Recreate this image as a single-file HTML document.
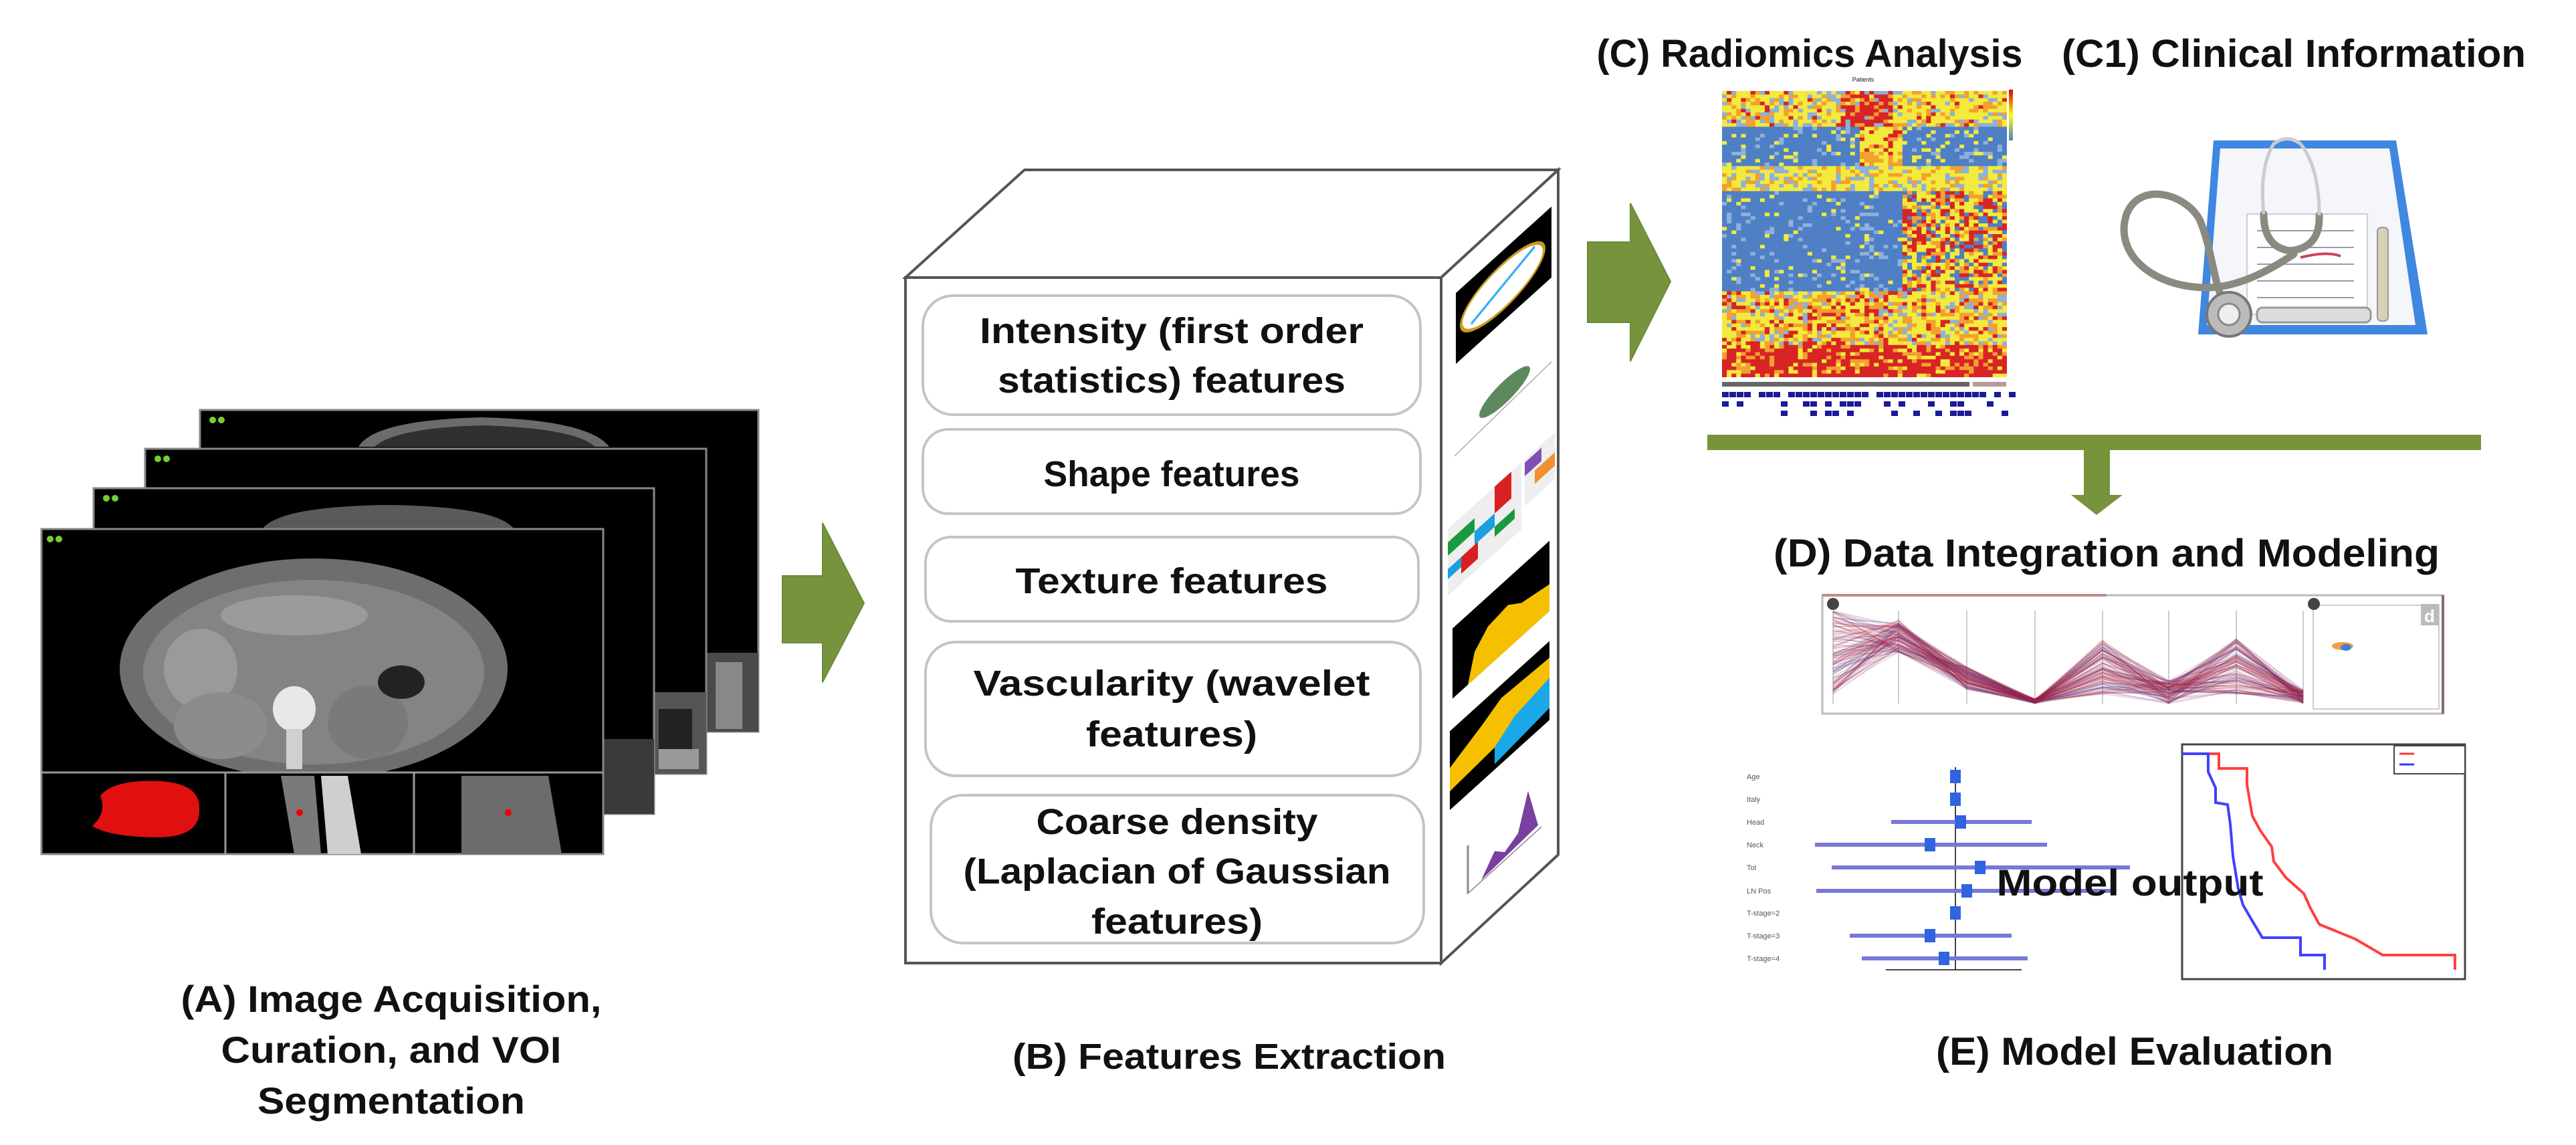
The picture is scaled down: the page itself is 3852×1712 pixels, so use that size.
<!DOCTYPE html>
<html><head><meta charset="utf-8"><style>
html,body{margin:0;padding:0;background:#fff;}
svg{display:block;}
text{font-family:"Liberation Sans",Arial,sans-serif;font-weight:bold;fill:#111;}
</style></head><body>
<svg id="s" width="3852" height="1712" viewBox="0 0 3852 1712" xmlns="http://www.w3.org/2000/svg">
<rect width="3852" height="1712" fill="#fff"/>
<defs>
<clipPath id="cpFront"><rect x="62" y="791" width="840" height="364"/></clipPath>
<clipPath id="cpHm"><rect x="2575" y="136" width="426" height="428"/></clipPath>
</defs>

<!-- ===== A: CT frames ===== -->
<g>
<rect x="299" y="613" width="835" height="481" fill="#000" stroke="#888" stroke-width="3"/>
<path d="M536 668 Q560 628 720 624 Q880 628 911 668 Z" fill="#6b6b6b"/>
<path d="M560 668 Q590 640 720 636 Q860 640 890 668 Z" fill="#303030"/>
<rect x="1056" y="976" width="78" height="118" fill="#4a4a4a"/>
<rect x="1070" y="990" width="40" height="100" fill="#888"/>

<rect x="217" y="671" width="839" height="486" fill="#000" stroke="#888" stroke-width="3"/>
<rect x="978" y="1035" width="78" height="122" fill="#555"/>
<rect x="985" y="1060" width="50" height="60" fill="#222"/>
<rect x="985" y="1120" width="60" height="30" fill="#999"/>

<rect x="140" y="730" width="838" height="487" fill="#000" stroke="#888" stroke-width="3"/>
<path d="M393 790 Q420 757 580 755 Q740 757 768 790 Z" fill="#5a5a5a"/>
<rect x="900" y="1105" width="78" height="112" fill="#3a3a3a"/>

<rect x="62" y="791" width="840" height="486" fill="#000" stroke="#888" stroke-width="3"/>
<g clip-path="url(#cpFront)">
<ellipse cx="469" cy="1000" rx="290" ry="165" fill="#6e6e6e"/>
<ellipse cx="469" cy="1005" rx="255" ry="138" fill="#848484"/>
<ellipse cx="300" cy="1000" rx="55" ry="60" fill="#9a9a9a"/>
<ellipse cx="330" cy="1085" rx="70" ry="50" fill="#8c8c8c"/>
<ellipse cx="550" cy="1080" rx="60" ry="55" fill="#7a7a7a"/>
<ellipse cx="600" cy="1020" rx="35" ry="25" fill="#222"/>
<ellipse cx="440" cy="1060" rx="32" ry="34" fill="#e8e8e8"/>
<rect x="428" y="1090" width="24" height="60" fill="#d0d0d0"/>
<ellipse cx="440" cy="920" rx="110" ry="30" fill="#9b9b9b"/>
</g>
<line x1="62" y1="1155" x2="902" y2="1155" stroke="#999" stroke-width="3"/>
<line x1="337" y1="1155" x2="337" y2="1277" stroke="#999" stroke-width="3"/>
<line x1="619" y1="1155" x2="619" y2="1277" stroke="#999" stroke-width="3"/>
<path d="M150 1190 Q170 1165 240 1168 Q300 1172 298 1210 Q300 1250 240 1252 Q165 1252 138 1235 Q160 1215 150 1190Z" fill="#e01010"/>
<path d="M420 1160 L470 1160 L480 1277 L440 1277Z" fill="#7a7a7a"/>
<path d="M480 1160 L520 1160 L540 1277 L490 1277Z" fill="#cfcfcf"/>
<path d="M690 1160 L820 1160 L840 1277 L690 1277Z" fill="#6c6c6c"/>
<circle cx="448" cy="1215" r="5" fill="#e00"/>
<circle cx="760" cy="1215" r="5" fill="#e00"/>
<circle cx="75" cy="806" r="5" fill="#7c3"/><circle cx="88" cy="806" r="5" fill="#7c3"/>
<circle cx="159" cy="745" r="5" fill="#7c3"/><circle cx="172" cy="745" r="5" fill="#7c3"/>
<circle cx="236" cy="686" r="5" fill="#7c3"/><circle cx="249" cy="686" r="5" fill="#7c3"/>
<circle cx="318" cy="628" r="5" fill="#7c3"/><circle cx="331" cy="628" r="5" fill="#7c3"/>
</g>

<!-- Arrow 1 -->
<path d="M1170 861 L1230 861 L1230 782 L1292 902 L1230 1020 L1230 961 L1170 961Z" fill="#77933c" stroke="#6a8a3a" stroke-width="2"/>

<text x="585" y="1513" font-size="56" text-anchor="middle" textLength="629" lengthAdjust="spacingAndGlyphs">(A) Image Acquisition,</text>
<text x="585" y="1589" font-size="56" text-anchor="middle" textLength="509" lengthAdjust="spacingAndGlyphs">Curation, and VOI</text>
<text x="585" y="1665" font-size="56" text-anchor="middle" textLength="400" lengthAdjust="spacingAndGlyphs">Segmentation</text>

<!-- ===== B: cube ===== -->
<g stroke="#555" stroke-width="4" fill="#fff">
<path d="M1354 415 L1532 254 L2330 254 L2155 415Z"/>
<path d="M2155 415 L2330 254 L2330 1278 L2155 1440Z"/>
<rect x="1354" y="415" width="801" height="1025"/>
</g>
<g fill="#fff" stroke="#c4c4c4" stroke-width="4">
<rect x="1380" y="442" width="744" height="178" rx="45"/>
<rect x="1380" y="642" width="744" height="126" rx="38"/>
<rect x="1384" y="803" width="737" height="126" rx="38"/>
<rect x="1384" y="960" width="740" height="200" rx="45"/>
<rect x="1392" y="1189" width="737" height="221" rx="48"/>
</g>
<g font-size="54" text-anchor="middle">
<text x="1752" y="513" textLength="574" lengthAdjust="spacingAndGlyphs">Intensity (first order</text>
<text x="1752" y="587" textLength="520" lengthAdjust="spacingAndGlyphs">statistics) features</text>
<text x="1752" y="727" textLength="383" lengthAdjust="spacingAndGlyphs">Shape features</text>
<text x="1752" y="887" textLength="467" lengthAdjust="spacingAndGlyphs">Texture features</text>
<text x="1752" y="1040" textLength="593" lengthAdjust="spacingAndGlyphs">Vascularity  (wavelet</text>
<text x="1752" y="1116" textLength="256" lengthAdjust="spacingAndGlyphs">features)</text>
<text x="1760" y="1247" textLength="421" lengthAdjust="spacingAndGlyphs">Coarse density</text>
<text x="1760" y="1321" textLength="639" lengthAdjust="spacingAndGlyphs">(Laplacian of Gaussian</text>
<text x="1760" y="1396" textLength="256" lengthAdjust="spacingAndGlyphs">features)</text>
</g>
<!-- right face icons -->
<g transform="matrix(1,-0.904,0,1,2155,0)">
<rect x="22" y="458" width="143" height="106" fill="#000"/>
<ellipse cx="92" cy="512" rx="62" ry="34" fill="#fff" stroke="#c89a20" stroke-width="4"/>
<line x1="45" y1="525" x2="140" y2="495" stroke="#3ab0f0" stroke-width="5"/>
<ellipse cx="95" cy="672" rx="38" ry="18" fill="#5c8a5c"/>
<line x1="20" y1="700" x2="165" y2="690" stroke="#aaa" stroke-width="2"/>
<g>
<rect x="10" y="800" width="110" height="100" fill="#eee"/>
<rect x="10" y="820" width="40" height="20" fill="#1a9a40"/>
<rect x="50" y="840" width="30" height="20" fill="#1aa0e0"/>
<rect x="80" y="800" width="25" height="40" fill="#d82020"/>
<rect x="30" y="860" width="25" height="25" fill="#d82020"/>
<rect x="10" y="860" width="20" height="15" fill="#1aa0e0"/>
<rect x="80" y="860" width="30" height="15" fill="#1a9a40"/>
<rect x="125" y="800" width="45" height="70" fill="#eee"/>
<rect x="125" y="805" width="25" height="20" fill="#8050b0"/>
<rect x="140" y="830" width="30" height="20" fill="#f09030"/>
</g>
<rect x="17" y="955" width="145" height="105" fill="#000"/>
<path d="M40 1060 L50 1020 L70 1000 L100 995 L120 1010 L162 1020 L162 1060Z" fill="#f5c000"/>
<rect x="13" y="1105" width="149" height="118" fill="#000"/>
<path d="M13 1160 L60 1140 L90 1125 L162 1130 L162 1160 L110 1175 L80 1190 L13 1195Z" fill="#f5c000"/>
<path d="M80 1190 L110 1170 L162 1160 L162 1205 L80 1215Z" fill="#1aa8e8"/>
<path d="M60 1370 L80 1345 L95 1360 L115 1350 L130 1300 L145 1365Z" fill="#7a3fa0"/>
<line x1="40" y1="1300" x2="40" y2="1372" stroke="#888" stroke-width="3"/>
<line x1="40" y1="1372" x2="150" y2="1372" stroke="#888" stroke-width="2"/>
</g>
<text x="1838" y="1598" font-size="54" text-anchor="middle" textLength="648" lengthAdjust="spacingAndGlyphs">(B) Features Extraction</text>

<!-- Arrow 2 -->
<path d="M2374 362 L2438 362 L2438 304 L2498 421 L2438 540 L2438 482 L2374 482Z" fill="#77933c" stroke="#6a8a3a" stroke-width="2"/>

<!-- ===== C ===== -->
<text x="2706" y="100" font-size="58" text-anchor="middle" textLength="637" lengthAdjust="spacingAndGlyphs">(C) Radiomics Analysis</text>
<text x="3430" y="100" font-size="58" text-anchor="middle" textLength="694" lengthAdjust="spacingAndGlyphs">(C1) Clinical Information</text>
<g id="hm" clip-path="url(#cpHm)"><rect x="2575" y="136" width="426" height="428" fill="#4f7fc4"/></g>
<rect x="3004" y="134" width="6" height="76" fill="url(#cb)"/>
<linearGradient id="cb" x1="0" y1="0" x2="0" y2="1"><stop offset="0" stop-color="#d00"/><stop offset="0.5" stop-color="#ff0"/><stop offset="1" stop-color="#4f7fc4"/></linearGradient>
<text x="2786" y="122" font-size="9" font-weight="normal" text-anchor="middle" style="font-weight:normal">Patients</text>
<g id="ann"></g>

<!-- clipboard -->
<path d="M3310 210 L3583 210 L3630 500 L3287 500Z" fill="#3f87e0"/>
<path d="M3320 222 L3573 222 L3612 486 L3300 486Z" fill="#f4f6fa"/>
<rect x="3360" y="320" width="180" height="150" fill="#fff" stroke="#ccd" stroke-width="2"/>
<g stroke="#99a" stroke-width="2"><line x1="3375" y1="345" x2="3520" y2="345"/><line x1="3375" y1="370" x2="3520" y2="370"/><line x1="3375" y1="395" x2="3520" y2="395"/><line x1="3375" y1="420" x2="3520" y2="420"/><line x1="3375" y1="445" x2="3520" y2="445"/></g>
<path d="M3440 385 Q3480 375 3500 383" stroke="#d04060" stroke-width="4" fill="none"/>
<rect x="3375" y="460" width="170" height="22" rx="8" fill="#ddd" stroke="#999" stroke-width="3"/>
<rect x="3555" y="340" width="16" height="140" rx="6" fill="#d8d0b8" stroke="#999" stroke-width="2"/>
<g fill="none" stroke="#8a8a80" stroke-width="11" stroke-linecap="round">
<path d="M3430 380 C3400 400 3350 430 3300 430 C3220 430 3160 380 3180 320 C3200 270 3270 290 3290 330 C3310 380 3310 430 3330 460"/>
<path d="M3385 320 Q3385 370 3425 375 Q3470 370 3468 322"/>
</g>
<path d="M3385 320 Q3378 250 3400 215 Q3420 200 3440 215 Q3468 250 3468 322" fill="none" stroke="#ccc" stroke-width="5"/>
<circle cx="3333" cy="470" r="33" fill="#bbb" stroke="#777" stroke-width="4"/>
<circle cx="3333" cy="470" r="16" fill="#eee" stroke="#888" stroke-width="3"/>

<!-- bar + down arrow -->
<rect x="2553" y="650" width="1157" height="23" fill="#77933c"/>
<rect x="3116" y="673" width="39" height="68" fill="#77933c"/>
<path d="M3097 740 L3174 740 L3135 770Z" fill="#77933c"/>

<!-- ===== D ===== -->
<text x="3150" y="847" font-size="58" text-anchor="middle" textLength="996" lengthAdjust="spacingAndGlyphs">(D)  Data Integration and Modeling</text>
<rect x="2725" y="890" width="928" height="177" fill="#fff" stroke="#bbb" stroke-width="3"/>
<line x1="2725" y1="890" x2="3150" y2="890" stroke="#c08a8a" stroke-width="4"/>
<line x1="3653" y1="890" x2="3653" y2="1067" stroke="#8a6a6a" stroke-width="4"/>
<g id="pc"></g>
<rect x="3459" y="905" width="188" height="155" fill="#fff" stroke="#ccc" stroke-width="2"/>
<ellipse cx="3503" cy="966" rx="16" ry="6" fill="#f0a040"/><ellipse cx="3508" cy="968" rx="8" ry="5" fill="#4080e0"/>
<rect x="3620" y="903" width="27" height="32" fill="#bbb"/>
<text x="3633" y="930" font-size="26" text-anchor="middle" style="fill:#fff">d</text>
<circle cx="2741" cy="903" r="9" fill="#444"/><circle cx="3460" cy="903" r="9" fill="#444"/>

<!-- forest plot -->
<g font-size="11" style="font-weight:normal" fill="#555">
<text x="2612" y="1165" style="font-weight:normal;fill:#555">Age</text>
<text x="2612" y="1199" style="font-weight:normal;fill:#555">Italy</text>
<text x="2612" y="1233" style="font-weight:normal;fill:#555">Head</text>
<text x="2612" y="1267" style="font-weight:normal;fill:#555">Neck</text>
<text x="2612" y="1301" style="font-weight:normal;fill:#555">Tol</text>
<text x="2612" y="1336" style="font-weight:normal;fill:#555">LN Pos</text>
<text x="2612" y="1369" style="font-weight:normal;fill:#555">T-stage=2</text>
<text x="2612" y="1403" style="font-weight:normal;fill:#555">T-stage=3</text>
<text x="2612" y="1437" style="font-weight:normal;fill:#555">T-stage=4</text>
</g>
<line x1="2924" y1="1147" x2="2924" y2="1450" stroke="#444" stroke-width="2"/>
<line x1="2820" y1="1450" x2="3023" y2="1450" stroke="#444" stroke-width="2"/>
<g stroke="#7878d8" stroke-width="6">
<line x1="2828" y1="1229" x2="3038" y2="1229"/>
<line x1="2714" y1="1263" x2="3061" y2="1263"/>
<line x1="2739" y1="1297" x2="3185" y2="1297"/>
<line x1="2716" y1="1332" x2="3160" y2="1332"/>
<line x1="2766" y1="1399" x2="3008" y2="1399"/>
<line x1="2784" y1="1433" x2="3032" y2="1433"/>
</g>
<g fill="#2f63e0">
<rect x="2916" y="1151" width="16" height="20"/><rect x="2916" y="1185" width="16" height="20"/>
<rect x="2924" y="1219" width="16" height="20"/><rect x="2878" y="1253" width="16" height="20"/>
<rect x="2953" y="1287" width="16" height="20"/><rect x="2933" y="1322" width="16" height="20"/>
<rect x="2916" y="1355" width="16" height="20"/><rect x="2878" y="1389" width="16" height="20"/>
<rect x="2899" y="1423" width="16" height="20"/>
</g>

<!-- KM plot -->
<rect x="3263" y="1113" width="423" height="351" fill="none" stroke="#444" stroke-width="3"/>
<rect x="3580" y="1115" width="106" height="42" fill="#fff" stroke="#444" stroke-width="2"/>
<line x1="3588" y1="1127" x2="3610" y2="1127" stroke="#f33" stroke-width="3"/>
<line x1="3588" y1="1143" x2="3610" y2="1143" stroke="#33f" stroke-width="3"/>
<polyline fill="none" stroke="#ff4040" stroke-width="4" points="3263,1127 3318,1127 3318,1149 3360,1149 3360,1173 3368,1220 3380,1242 3397,1266 3400,1288 3418,1312 3445,1336 3455,1358 3468,1382 3522,1404 3563,1428 3671,1428 3671,1450"/>
<polyline fill="none" stroke="#4040ff" stroke-width="4" points="3263,1127 3302,1127 3302,1154 3313,1178 3313,1200 3331,1203 3335,1232 3339,1280 3347,1329 3354,1353 3368,1377 3383,1402 3440,1402 3440,1428 3476,1428 3476,1450"/>
<text x="3185" y="1339" font-size="56" text-anchor="middle" textLength="399" lengthAdjust="spacingAndGlyphs">Model output</text>
<text x="3192" y="1592" font-size="58" text-anchor="middle" textLength="594" lengthAdjust="spacingAndGlyphs">(E) Model Evaluation</text>
</svg>
<script>
(function(){
var NS="http://www.w3.org/2000/svg";
var seed=12345;function r(){seed=(seed*16807)%2147483647;return seed/2147483647;}
function el(t,a,p){var e=document.createElementNS(NS,t);for(var k in a)e.setAttribute(k,a[k]);p.appendChild(e);return e;}
var hm=document.getElementById('hm');
var C=60,R=80,x0=2575,y0=136,w=426/C,h=428/R;
var B='#4f7fc4',LB='#8fb0d8',Y='#f2ea3c',O='#f2a030',RD='#d82424';
for(var i=0;i<R;i++)for(var j=0;j<C;j++){
 var u=j/C,v=i/R,p=r(),c;
 if(v<0.12){c=p<0.55?Y:(p<0.75?O:(p<0.85?RD:LB)); if(u>0.4&&u<0.6&&p<0.5)c=RD;}
 else if(v<0.26){ if(u<0.48||u>0.63)c=p<0.8?B:(p<0.9?Y:LB); else c=p<0.6?Y:(p<0.8?RD:O);}
 else if(v<0.34){c=p<0.6?Y:(p<0.8?LB:O);}
 else if(v<0.7){ if(u<0.62)c=p<0.85?B:(p<0.95?LB:Y); else c=p<0.35?Y:(p<0.6?RD:(p<0.8?O:B));}
 else if(v<0.88){c=p<0.45?Y:(p<0.7?O:(p<0.85?RD:LB));}
 else {c=p<0.65?RD:(p<0.85?O:Y);}
 el('rect',{x:x0+j*w,y:y0+i*h,width:w+0.6,height:h+0.6,fill:c},hm);
}
var ann=document.getElementById('ann');
el('rect',{x:2575,y:571,width:370,height:7,fill:'#666'},ann);
el('rect',{x:2950,y:571,width:50,height:7,fill:'#b99'},ann);
for(var k=0;k<3;k++){for(var j=0;j<40;j++){if(r()<(k==0?0.8:0.35))el('rect',{x:2575+j*11,y:586+k*14,width:10,height:8,fill:'#1a1a9a'},ann);}}
var pc=document.getElementById('pc');
var ax=[2741,2839,2941,3043,3144,3243,3344,3444],top=913,bot=1052;
ax.forEach(function(a){el('line',{x1:a,y1:top,x2:a,y2:bot,stroke:'#bbb','stroke-width':1.5},pc);});
for(var n=0;n<120;n++){
 var vals=[r()*0.9,0.1+r()*0.35,0.6+r()*0.25,0.95+r()*0.05,0.3+r()*0.6,0.75+r()*0.25,0.3+r()*0.6,0.85+r()*0.15];
 var pts=ax.map(function(a,i){return a+','+(top+vals[i]*(bot-top));}).join(' ');
 el('polyline',{points:pts,fill:'none',stroke:r()<0.25?'rgba(70,70,160,0.25)':'rgba(170,30,60,0.2)','stroke-width':1.5},pc);
}
})();
</script>
</body></html>
